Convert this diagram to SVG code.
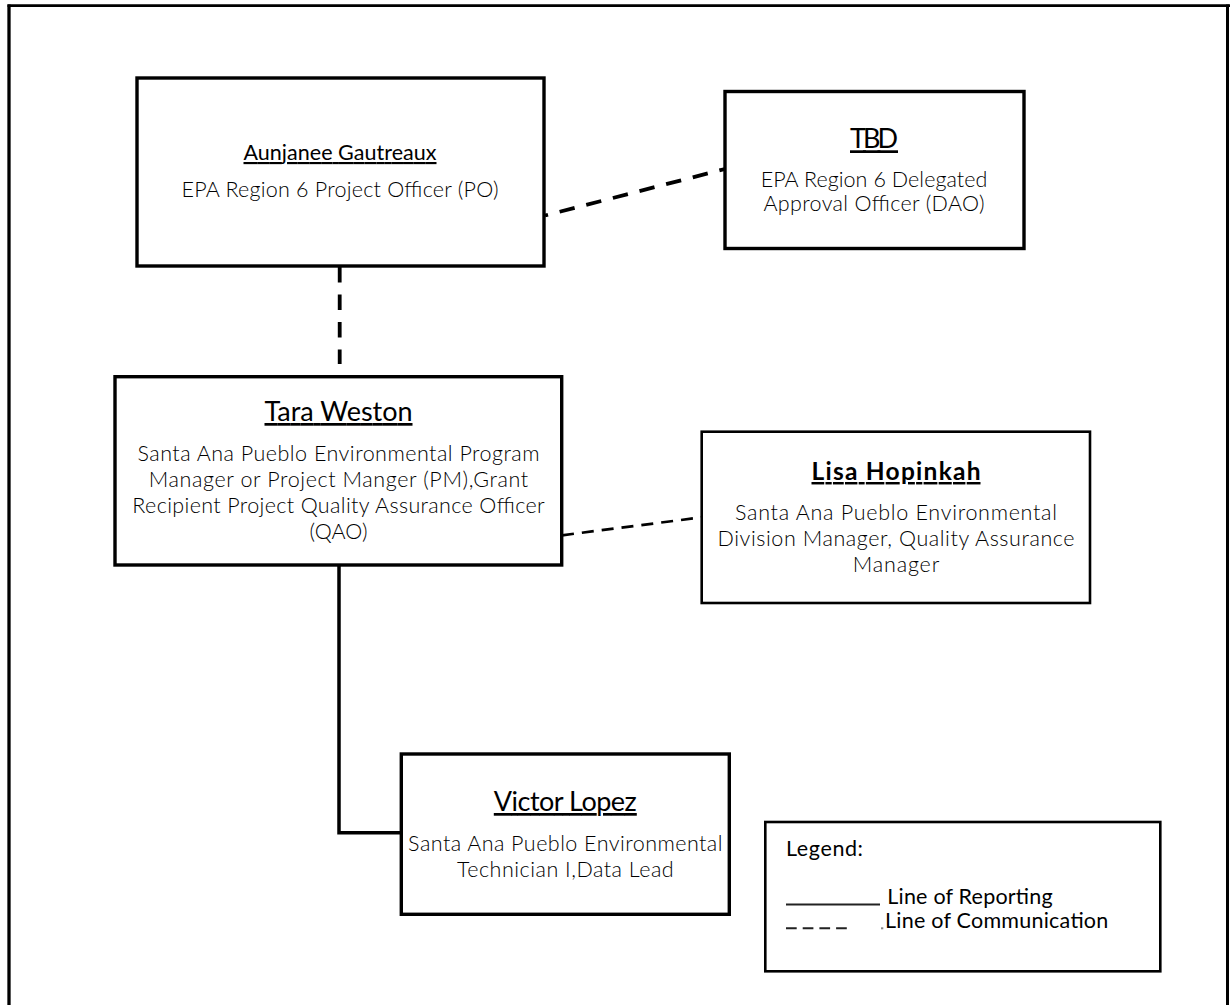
<svg xmlns="http://www.w3.org/2000/svg" width="1230" height="1005" viewBox="0 0 1230 1005">
<style>
.box{fill:#fff;stroke:#000;stroke-width:3.4}
.thin{fill:#fff;stroke:#000;stroke-width:2.6}
.name{font-family:Lato,"Liberation Sans",sans-serif;font-weight:400;fill:#000;text-anchor:middle;text-decoration:underline}
.bold{font-weight:700}
.desc{font-family:Lato,"Liberation Sans",sans-serif;font-weight:300;font-size:21.5px;fill:#000;text-anchor:middle}
.leg{font-family:Lato,"Liberation Sans",sans-serif;font-weight:400;font-size:21.5px;fill:#000}
.dash{fill:none;stroke:#000;stroke-width:3.8;stroke-dasharray:15.5 12}
.dash2{fill:none;stroke:#000;stroke-width:2.7;stroke-dasharray:12 8}
.solid{fill:none;stroke:#000;stroke-width:3.5}
</style>
<rect width="1230" height="1005" fill="#fff"/>
<g id="page-frame" fill="none" stroke="#000">
  <line x1="9" y1="4.5" x2="9" y2="1005" stroke-width="3.3"/>
  <line x1="7.5" y1="5.7" x2="1230" y2="5.7" stroke-width="2.8"/>
  <line x1="1227.5" y1="4.5" x2="1227.5" y2="1005" stroke-width="3"/>
</g>
<g id="connectors">
  <path class="dash" d="M339.7 267 V364"/>
  <path class="dash" d="M545 215.5 L725 169" stroke-dashoffset="12.4"/>
  <path class="dash2" d="M562 535.3 L701.7 517.3"/>
  <path class="solid" d="M339 565 V832.7 H401.3"/>
</g>
<g id="node-po">
  <rect class="box" x="137" y="78" width="407" height="188"/>
  <text class="name" x="340" y="160" font-size="21.5" textLength="193">Aunjanee Gautreaux</text>
  <text class="desc" x="340" y="196.7" textLength="317">EPA Region 6 Project Officer (PO)</text>
</g>
<g id="node-dao">
  <rect class="box" x="725" y="91.5" width="299" height="157"/>
  <text class="name" x="874" y="148.3" font-size="27" textLength="48">TBD</text>
  <text class="desc" x="874" y="186.7" textLength="226.7">EPA Region 6 Delegated</text>
  <text class="desc" x="874" y="210.7" textLength="221">Approval Officer (DAO)</text>
</g>
<g id="node-pm">
  <rect class="box" x="115" y="376.7" width="446.7" height="188.3"/>
  <text class="name" x="338.5" y="421" font-size="27" textLength="148">Tara Weston</text>
  <text class="desc" x="338.5" y="460.7" textLength="402">Santa Ana Pueblo Environmental Program</text>
  <text class="desc" x="338.5" y="486.7" textLength="379.3">Manager or Project Manger (PM),Grant</text>
  <text class="desc" x="338.5" y="512.7" textLength="412.3">Recipient Project Quality Assurance Officer</text>
  <text class="desc" x="338.5" y="539.3" textLength="58">(QAO)</text>
</g>
<g id="node-qam">
  <rect class="thin" x="701.7" y="431.7" width="388.3" height="171.3"/>
  <text class="name bold" x="896" y="480" font-size="24.5" textLength="169">Lisa Hopinkah</text>
  <text class="desc" x="896" y="519.5" textLength="322">Santa Ana Pueblo Environmental</text>
  <text class="desc" x="896" y="545.5" textLength="357">Division Manager, Quality Assurance</text>
  <text class="desc" x="896" y="571.5" textLength="86.6">Manager</text>
</g>
<g id="node-tl">
  <rect class="box" x="401.3" y="754" width="328" height="160.3"/>
  <text class="name" x="565.3" y="811" font-size="27" textLength="143">Victor Lopez</text>
  <text class="desc" x="565.3" y="850.7" textLength="314.4">Santa Ana Pueblo Environmental</text>
  <text class="desc" x="565.3" y="876.7" textLength="216.7">Technician I,Data Lead</text>
</g>
<g id="legend">
  <rect class="thin" x="765.3" y="822" width="395" height="149.3"/>
  <text class="leg" x="786" y="856" font-weight="700" textLength="77">Legend:</text>
  <line x1="786" y1="904.5" x2="880" y2="904.5" stroke="#222" stroke-width="2"/>
  <text class="leg" x="887.3" y="904.3" textLength="165.4">Line of Reporting</text>
  <line x1="786" y1="928.3" x2="847" y2="928.3" stroke="#222" stroke-width="2" stroke-dasharray="10.7 6"/>
  <line x1="881" y1="928.3" x2="883.3" y2="928.3" stroke="#888" stroke-width="2"/>
  <text class="leg" x="885" y="928.3" textLength="223.3">Line of Communication</text>
</g>
</svg>
